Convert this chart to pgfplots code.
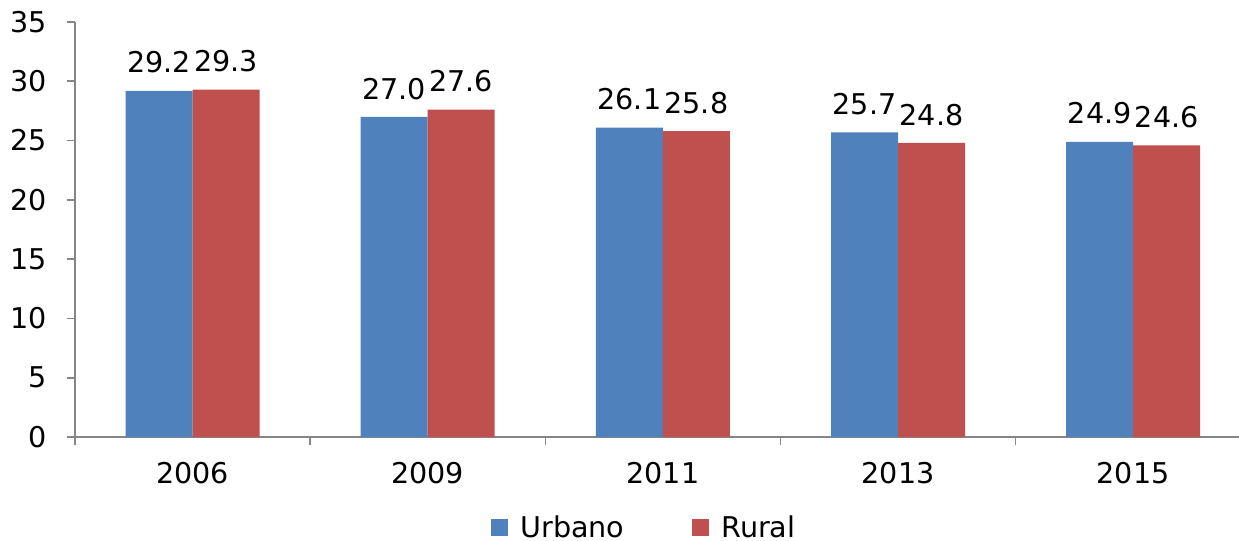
\documentclass[border=0pt]{standalone}
\usepackage{fontspec}
\setmainfont{DejaVu Sans}
\usepackage{pgfplots}
\pgfplotsset{compat=1.18}
\definecolor{urb}{HTML}{4F81BD}
\definecolor{rur}{HTML}{C0504D}
\definecolor{axgray}{HTML}{868686}

\begin{document}
\begin{tikzpicture}
\useasboundingbox (-37.5pt,-52pt) rectangle (582pt,218.5pt);
\begin{axis}[
    scale only axis,
    width=582pt, height=207.5pt,
    font=\fontsize{14.3}{17}\selectfont,
    /pgf/number format/assume math mode=true,
    ybar=0pt, bar width=33.5pt,
    xmin=-0.5, xmax=4.45,
    ymin=0, ymax=35,
    ytick={0,5,...,35},
    xtick={0,1,2,3,4},
    xticklabels={2006,2009,2011,2013,2015},
    minor xtick={-0.5,0.5,1.5,2.5,3.5},
    major x tick style={draw=none},
    tick align=outside,
    major tick length=4pt, minor tick length=4pt,
    tick style={axgray, line width=0.8pt},
    axis x line*=bottom, axis y line*=left,
    axis line style={axgray, line width=0.8pt},
    x tick label style={yshift=-5pt},
    y tick label style={xshift=-6.5pt},
    nodes near coords={\pgfmathprintnumber[fixed,fixed zerofill,precision=1]{\pgfplotspointmeta}},
    every node near coord/.append style={font=\fontsize{14.3}{17}\selectfont, black, anchor=south, inner sep=0pt, yshift=8.5pt},
    legend columns=2,
    legend style={draw=none, at={(0.49,-0.219)}, anchor=center, font=\fontsize{14.3}{17}\selectfont,
        inner sep=0pt, nodes={inner ysep=0pt},
        /tikz/every odd column/.append style={column sep=4pt},
        /tikz/every even column/.append style={column sep=32pt}},
    legend image code/.code={\fill[#1] (0pt,-4.25pt) rectangle (8.5pt,4.25pt);},
]
\addplot[fill=urb, draw=none] coordinates {(0,29.2) (1,27.0) (2,26.1) (3,25.7) (4,24.9)};
\addplot[fill=rur, draw=none] coordinates {(0,29.3) (1,27.6) (2,25.8) (3,24.8) (4,24.6)};
\legend{Urbano, Rural}
\end{axis}
\end{tikzpicture}
\end{document}
